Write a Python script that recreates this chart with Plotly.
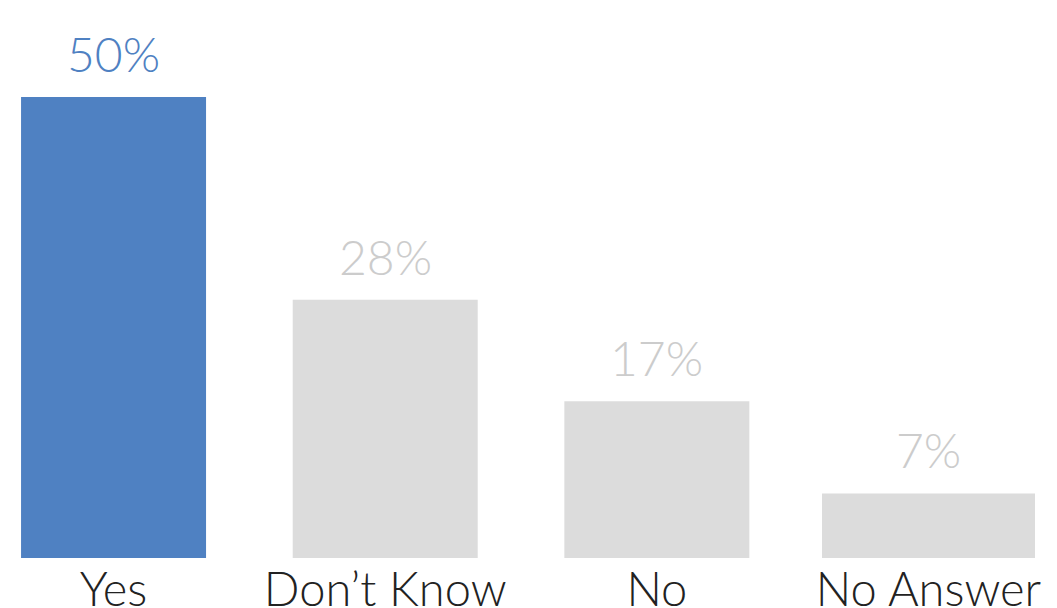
import plotly.graph_objects as go

categories = ["Yes", "Don\u2019t Know", "No", "No Answer"]
values = [50, 28, 17, 7]
labels = ["50%", "28%", "17%", "7%"]

bar_colors = ["#4F81C2", "#DCDCDC", "#DCDCDC", "#DCDCDC"]
label_colors = ["#4F81C2", "#CCCCCC", "#CCCCCC", "#CCCCCC"]
bar_widths = [0.681, 0.681, 0.681, 0.784]

FONT = "Lato, 'Open Sans', sans-serif"

fig = go.Figure()
fig.add_trace(go.Bar(
    x=categories, y=values,
    marker=dict(color=bar_colors, line=dict(width=0)),
    width=bar_widths,
    hoverinfo="skip",
))

for c, v, t, col in zip(categories, values, labels, label_colors):
    fig.add_annotation(
        x=c, y=v, text=t, showarrow=False,
        xanchor="center", yanchor="bottom", yshift=13,
        font=dict(family=FONT, size=48, color=col, weight=300),
    )

fig.update_layout(
    width=1057, height=608,
    margin=dict(l=0, r=0, t=0, b=50),
    paper_bgcolor="white", plot_bgcolor="white",
    showlegend=False,
    xaxis=dict(
        type="category",
        range=[-0.418, 3.473],
        showgrid=False, zeroline=False, showline=False, ticks="",
        automargin=False,
        ticklabelstandoff=0,
        tickfont=dict(family=FONT, size=47, color="#222222", weight=300),
        fixedrange=True,
    ),
    yaxis=dict(
        range=[0, 558 / 9.22],
        visible=False,
        automargin=False,
        fixedrange=True,
    ),
)

fig.write_html(
    "out.html",
    config={"displayModeBar": False},
    post_script="document.body.style.margin='0';document.body.style.overflow='hidden';",
)
